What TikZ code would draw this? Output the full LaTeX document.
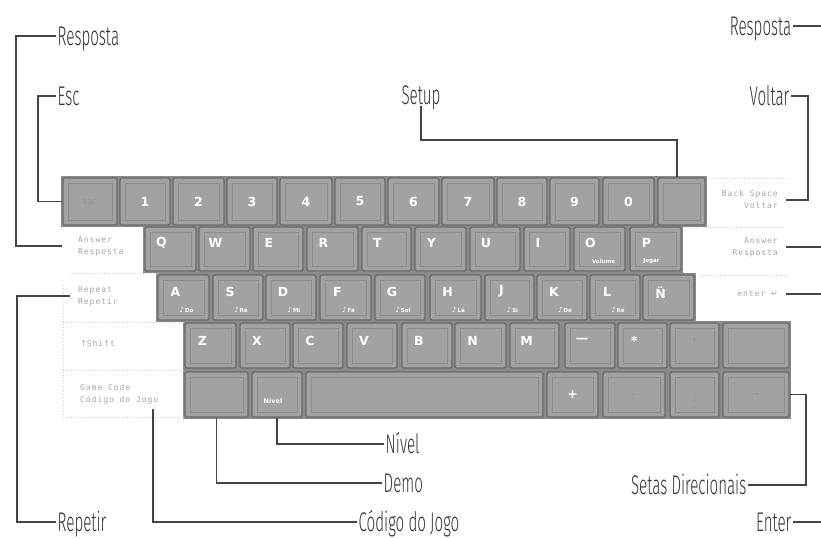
\documentclass[tikz,border=0pt]{standalone}
\usepackage{fontspec}
\setmainfont{Fira Sans}
\newfontfamily\lblfont[FakeStretch=0.56]{Fira Sans Light}
\newfontfamily\keyfont{DejaVu Sans}
\newfontfamily\panelfont[LetterSpace=12]{DejaVu Sans Mono}
\definecolor{keyface}{HTML}{A2A2A2}
\definecolor{keyedge}{HTML}{6A6A6A}
\definecolor{kbback}{HTML}{8A8A8A}
\definecolor{keyinner}{HTML}{8C8C8C}
\definecolor{faint}{HTML}{909090}
\definecolor{lineclr}{HTML}{444444}
\definecolor{txtclr}{HTML}{333333}
\definecolor{paneltxt}{HTML}{A4A4A4}
\tikzset{
 keybox/.style={draw=keyedge, fill=keyface, line width=1.4pt, rounded corners=1.5pt, inner sep=0pt,
   path picture={\draw[keyinner, line width=0.9pt, sharp corners] ([shift={(5pt,-5pt)}]path picture bounding box.north west) rectangle ([shift={(-5pt,5pt)}]path picture bounding box.south east);}},
 keylab/.style={text=white, font=\keyfont\bfseries\fontsize{12.5}{12.5}\selectfont, inner sep=0pt},
 subkey/.style={text=white, font=\keyfont\bfseries\fontsize{5.5}{6}\selectfont, inner sep=0pt},
 faintlab/.style={text=faint, font=\keyfont\fontsize{7}{7}\selectfont, inner sep=0pt},
 callout/.style={draw=lineclr, line width=1.1pt},
 lbl/.style={text=txtclr, font=\lblfont\fontsize{27}{27}\selectfont, inner sep=1.5pt, text height=18pt, text depth=0pt},
 panel/.style={text=paneltxt, font=\panelfont\fontsize{8}{12}\selectfont, inner ysep=0pt},
 dots/.style={draw=gray!35, line width=0.8pt, dotted},
}
\newcommand\kk[5]{%
 \pgfmathsetmacro\kw{#3-#2}\pgfmathsetmacro\kh{#5-#4}%
 \node[keybox, minimum width=\kw pt, minimum height=\kh pt] (#1) at ({(#2+#3)/2},{(#4+#5)/2}) {};}
\newcommand\note{{\mdseries\fontsize{7}{7}\selectfont ♪}}
\begin{document}
\begin{tikzpicture}[x=1pt,y=-1pt]
\useasboundingbox (0,0) rectangle (821,538);
% keyboard row backgrounds
\fill[kbback] (61,176) rectangle (707,227);
\fill[kbback] (143,225) rectangle (683,273);
\fill[kbback] (156,273) rectangle (696,322);
\fill[kbback] (183,321) rectangle (791,370);
\fill[kbback] (183,370) rectangle (791,419);
% row 1
\foreach \n/\a/\b/\t in {k1/120/170/1,k2/173/224/2,k3/227/277/3,k4/280/332/4,k5/335/385/5,k6/388/439/6,k7/442/494/7,k8/497/547/8,k9/550/599/9,k0/603/654/0}{
 \kk{\n}{\a}{\b}{178}{225}
 \node[keylab] (\n-t) at (\n.center) {\t};}
\kk{kEsc}{63}{117}{178}{225}
\node[faintlab] (kEsc-t) at (kEsc.center) {ESC};
\kk{kBS}{658}{705}{178}{225}
% row 2
\foreach \n/\a/\b/\t in {kQ/145/196/Q,kW/199/250/W,kE/253/303/E,kR/307/358/R,kT/362/411/T,kY/415/466/Y,kU/470/520/U,kI/524/570/I,kO/574/625/O,kP/630/681/P}{
 \kk{\n}{\a}{\b}{227}{271}
 \node[keylab] (\n-t) at ([shift={(-9pt,6pt)}]\n.center) {\t};}
\node[subkey] (kO-s) at ([shift={(4pt,-12pt)}]kO.center) {Volume};
\node[subkey] (kP-s) at ([shift={(-4pt,-12pt)}]kP.center) {Jogar};
% row 3
\foreach \n/\a/\b/\t/\s in {kA/158/209/A/Dó,kS/213/263/S/Ré,kD/266/316/D/Mi,kF/320/371/F/Fá,kG/375/425/G/Sol,kH/430/481/H/Lá,kJ/485/534/J/Si,kK/537/587/K/Dó,kL/590/640/L/Ré}{
 \kk{\n}{\a}{\b}{275}{320}
 \node[keylab] (\n-t) at ([shift={(-8pt,6pt)}]\n.center) {\t};
 \node[subkey] (\n-s) at ([shift={(3pt,-12pt)}]\n.center) {\note\,\s};}
\kk{kNt}{643}{694}{275}{320}
\node[keylab] (kNt-t) at ([shift={(-8pt,5pt)}]kNt.center) {Ñ};
% row 4
\foreach \n/\a/\b/\t in {kZ/185/236/Z,kX/240/290/X,kC/293/343/C,kV/347/397/V,kB/402/452/B,kN/455/506/N,kM/510/559/M,kMinus/565/615/—,kStar/618/667/*}{
 \kk{\n}{\a}{\b}{323}{368}
 \node[keylab] (\n-t) at ([shift={(-8pt,5pt)}]\n.center) {\t};}
\kk{kUp}{670}{719}{323}{368}
\node[faintlab] (kUp-t) at ([shift={(0pt,5pt)}]kUp.center) {↑};
\kk{kShift}{723}{789}{323}{368}
% row 5
\kk{kDemo}{185}{248}{372}{417}
\kk{kNiv}{252}{302}{372}{417}
\node[subkey, font=\keyfont\bfseries\fontsize{6.5}{7}\selectfont] (kNiv-t) at ([shift={(-4pt,-6pt)}]kNiv.center) {Nível};
\kk{kSpace}{306}{543}{372}{417}
\kk{kPlus}{547}{598}{372}{417}
\node[keylab] (kPlus-t) at (kPlus.center) {+};
\kk{kLeft}{603}{665}{372}{417}
\node[faintlab] (kLeft-t) at (kLeft.center) {←};
\kk{kDown}{670}{719}{372}{417}
\node[faintlab] (kDown-t) at ([shift={(0pt,-4pt)}]kDown.center) {↓};
\kk{kRight}{723}{789}{372}{417}
\node[faintlab] (kRight-t) at (kRight.center) {→};
% side panels
\draw[dots] (70,273) -- (157,273);
\draw[dots] (63,322) -- (184,322);
\draw[dots] (63,370) -- (184,370);
\draw[dots] (63,417) -- (184,417);
\draw[dots] (63,285) -- (63,417);
\draw[dots] (710,178) -- (788,178);
\draw[dots] (688,227) -- (785,227);
\draw[dots] (700,275) -- (788,275);
\node[panel, anchor=west, align=left, inner xsep=16pt] (pAns) at (62,246) {Answer\\Resposta};
\node[panel, anchor=west, align=left, inner xsep=8pt] (pRep) at (70,296) {Repeat\\Repetir};
\node[panel, anchor=west, align=left, inner xsep=0pt] (pShift) at (80,344) {{\keyfont ↑}Shift};
\node[panel, anchor=west, align=left, inner xsep=0pt] (pGame) at (80,394) {Game Code\\Código do Jogo};
\node[panel, anchor=east, align=right, inner xsep=8pt] (pBS) at (786,200) {Back Space\\Voltar};
\node[panel, anchor=east, align=right, inner xsep=8pt] (pAnsR) at (786,247) {Answer\\Resposta};
\node[panel, anchor=east, align=right, inner xsep=8pt] (pEnt) at (786,294) {enter {\keyfont ↵}};
\coordinate (cGame) at (153,409);
% callout labels
\node[lbl, anchor=west] (lRespL) at (56,36) {Resposta};
\node[lbl, anchor=west] (lEsc) at (56,96) {Esc};
\node[lbl] (lSetup) at (421,95) {Setup};
\node[lbl, anchor=east] (lVoltar) at (791,96) {Voltar};
\node[lbl, anchor=east] (lRespR) at (793,26) {Resposta};
\node[lbl, anchor=west] (lNivel) at (384,444) {Nível};
\node[lbl, anchor=west] (lDemo) at (382,483) {Demo};
\node[lbl, anchor=east] (lSetas) at (748,485) {Setas Direcionais};
\node[lbl, anchor=west] (lRep) at (56,522) {Repetir};
\node[lbl, anchor=west] (lCod) at (357,522) {Código do Jogo};
\node[lbl, anchor=east] (lEnter) at (793,522) {Enter};
% callout connectors
\draw[callout] (lRespL.west) -- (16,36) |- (pAns.west);
\draw[callout] (lEsc.west) -- (38,96) |- (kEsc.west);
\draw[callout] (lSetup.south) -- (lSetup.south |- 0,140) -| (kBS.north -| 677,0);
\draw[callout] (lVoltar.east) -- (808,96) |- (pBS.east);
\draw[callout] (lRespR.east) -- (822,26) |- (pAnsR.east);
\draw[callout] (lEnter.east) -- (822,522) |- (pEnt.east);
\draw[callout] (lSetas.east) -- (806,485) |- (kRight.east);
\draw[callout] (lRep.west) -- (17,522) |- (pRep.west);
\draw[callout] (lCod.west) -| (cGame);
\draw[callout] (lDemo.west) -| (kDemo.south);
\draw[callout] (lNivel.west) -| (kNiv.south);
\end{tikzpicture}
\end{document}
